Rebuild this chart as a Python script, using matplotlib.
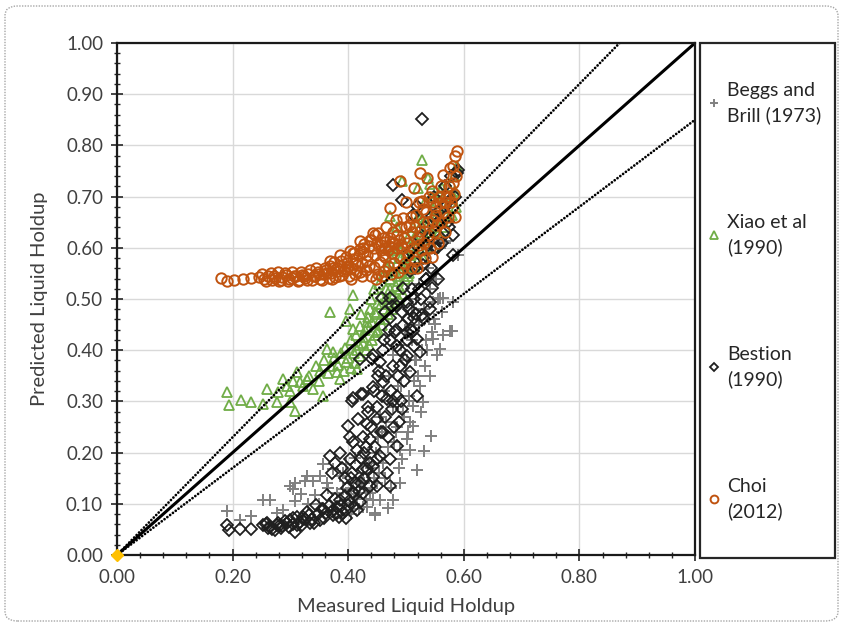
import numpy as np
import matplotlib.pyplot as plt
from matplotlib.ticker import AutoMinorLocator, FormatStrFormatter
from matplotlib.patches import Rectangle, FancyBboxPatch

plt.rcParams['font.family'] = ['Lato', 'DejaVu Sans']

# ---- data (measured, predicted) ----
beggs_x = [0.190, 0.213, 0.231, 0.253, 0.265, 0.276, 0.288, 0.299, 0.308, 0.305,
           0.308, 0.325, 0.328, 0.339, 0.343, 0.351, 0.357, 0.363, 0.374, 0.386,
           0.397, 0.391, 0.409, 0.420, 0.443, 0.446, 0.432, 0.374, 0.446, 0.469,
           0.478, 0.490, 0.519, 0.531, 0.544, 0.507, 0.501, 0.512, 0.529, 0.524,
           0.541, 0.533, 0.553, 0.547, 0.564, 0.580, 0.559, 0.512, 0.507, 0.490,
           0.391, 0.380, 0.438, 0.455, 0.403, 0.426, 0.493, 0.503, 0.570, 0.590,
           0.559, 0.581, 0.576, 0.550, 0.562, 0.545, 0.567, 0.564, 0.547, 0.415,
           0.425, 0.435, 0.445, 0.452, 0.460, 0.466, 0.472, 0.480, 0.486, 0.495,
           0.500, 0.505, 0.515, 0.520, 0.527, 0.535, 0.540, 0.455, 0.462, 0.470,
           0.478, 0.484, 0.492, 0.498, 0.510, 0.517, 0.523, 0.538, 0.552, 0.330,
           0.318, 0.350, 0.365, 0.405, 0.412, 0.428, 0.440, 0.450, 0.405, 0.410,
           0.418, 0.424, 0.430, 0.436, 0.442, 0.448, 0.454, 0.458, 0.464, 0.468,
           0.474, 0.478, 0.482, 0.488, 0.492, 0.496, 0.502, 0.506, 0.510, 0.514,
           0.518, 0.522, 0.526, 0.532, 0.536, 0.542, 0.548, 0.556]
beggs_y = [0.085, 0.069, 0.077, 0.108, 0.108, 0.082, 0.088, 0.134, 0.141, 0.128,
           0.105, 0.144, 0.154, 0.144, 0.118, 0.154, 0.177, 0.141, 0.167, 0.154,
           0.177, 0.128, 0.141, 0.122, 0.108, 0.082, 0.094, 0.088, 0.079, 0.092,
           0.108, 0.141, 0.166, 0.203, 0.232, 0.206, 0.226, 0.252, 0.299, 0.331,
           0.350, 0.369, 0.390, 0.422, 0.429, 0.437, 0.403, 0.291, 0.259, 0.206,
           0.161, 0.122, 0.122, 0.108, 0.102, 0.094, 0.187, 0.240, 0.613, 0.585,
           0.501, 0.495, 0.438, 0.452, 0.475, 0.436, 0.609, 0.501, 0.495, 0.110,
           0.160, 0.200, 0.150, 0.230, 0.180, 0.260, 0.300, 0.220, 0.330, 0.280,
           0.360, 0.310, 0.380, 0.350, 0.400, 0.420, 0.460, 0.270, 0.320, 0.350,
           0.390, 0.250, 0.410, 0.440, 0.470, 0.500, 0.530, 0.560, 0.540, 0.100,
           0.120, 0.100, 0.130, 0.130, 0.190, 0.140, 0.170, 0.140, 0.080, 0.120,
           0.090, 0.145, 0.110, 0.180, 0.130, 0.200, 0.160, 0.240, 0.150, 0.210,
           0.130, 0.290, 0.240, 0.170, 0.330, 0.270, 0.380, 0.300, 0.420, 0.340,
           0.380, 0.450, 0.280, 0.480, 0.400, 0.520, 0.460, 0.500]

xiao_x = [0.190, 0.194, 0.214, 0.231, 0.253, 0.260, 0.276, 0.279, 0.288, 0.294,
          0.299, 0.311, 0.317, 0.308, 0.328, 0.339, 0.345, 0.357, 0.363, 0.369,
          0.374, 0.380, 0.386, 0.397, 0.397, 0.403, 0.409, 0.415, 0.420, 0.409,
          0.432, 0.438, 0.449, 0.420, 0.300, 0.305, 0.322, 0.333, 0.350, 0.352,
          0.358, 0.365, 0.370, 0.376, 0.382, 0.388, 0.392, 0.395, 0.400, 0.405,
          0.410, 0.413, 0.418, 0.423, 0.426, 0.429, 0.435, 0.440, 0.442, 0.445,
          0.447, 0.450, 0.453, 0.455, 0.457, 0.460, 0.462, 0.465, 0.467, 0.470,
          0.472, 0.474, 0.476, 0.478, 0.480, 0.482, 0.484, 0.486, 0.488, 0.490,
          0.492, 0.494, 0.496, 0.498, 0.500, 0.502, 0.504, 0.506, 0.508, 0.510,
          0.512, 0.514, 0.516, 0.518, 0.520, 0.521, 0.523, 0.525, 0.527, 0.529,
          0.531, 0.533, 0.535, 0.538, 0.540, 0.541, 0.543, 0.546, 0.548, 0.550,
          0.552, 0.555, 0.557, 0.559, 0.562, 0.564, 0.566, 0.568, 0.570, 0.573,
          0.575, 0.577, 0.580, 0.581, 0.583, 0.585, 0.587, 0.589, 0.472, 0.493,
          0.470, 0.485, 0.430, 0.436, 0.441, 0.446, 0.452, 0.458, 0.463, 0.468,
          0.475, 0.481, 0.488, 0.495, 0.405, 0.412, 0.415, 0.425, 0.433, 0.448,
          0.456, 0.464, 0.472, 0.478, 0.487, 0.491, 0.497, 0.503, 0.509, 0.513,
          0.519, 0.526, 0.532, 0.537, 0.544, 0.551]
xiao_y = [0.318, 0.293, 0.303, 0.298, 0.295, 0.324, 0.298, 0.318, 0.344, 0.330,
          0.298, 0.357, 0.338, 0.281, 0.344, 0.324, 0.369, 0.311, 0.403, 0.475,
          0.397, 0.357, 0.344, 0.377, 0.458, 0.481, 0.442, 0.363, 0.389, 0.507,
          0.456, 0.481, 0.436, 0.448, 0.320, 0.340, 0.330, 0.350, 0.340, 0.360,
          0.380, 0.355, 0.370, 0.385, 0.372, 0.395, 0.360, 0.405, 0.385, 0.420,
          0.395, 0.430, 0.410, 0.470, 0.425, 0.440, 0.465, 0.500, 0.455, 0.520,
          0.475, 0.490, 0.530, 0.460, 0.505, 0.545, 0.480, 0.520, 0.560, 0.495,
          0.540, 0.580, 0.510, 0.555, 0.595, 0.525, 0.570, 0.545, 0.600, 0.520,
          0.580, 0.560, 0.610, 0.540, 0.590, 0.565, 0.620, 0.550, 0.600, 0.575,
          0.640, 0.590, 0.560, 0.615, 0.660, 0.717, 0.600, 0.640, 0.771, 0.580,
          0.625, 0.690, 0.610, 0.737, 0.650, 0.724, 0.630, 0.675, 0.600, 0.700,
          0.660, 0.674, 0.630, 0.710, 0.717, 0.650, 0.690, 0.640, 0.678, 0.720,
          0.660, 0.700, 0.664, 0.703, 0.740, 0.711, 0.680, 0.760, 0.662, 0.731,
          0.600, 0.640, 0.400, 0.410, 0.420, 0.430, 0.440, 0.450, 0.460, 0.470,
          0.480, 0.490, 0.500, 0.510, 0.365, 0.375, 0.400, 0.415, 0.445, 0.470,
          0.490, 0.500, 0.520, 0.505, 0.535, 0.550, 0.570, 0.545, 0.585, 0.620,
          0.590, 0.660, 0.650, 0.600, 0.700, 0.640]

bestion_x = [0.190, 0.194, 0.213, 0.231, 0.253, 0.265, 0.273, 0.282, 0.294, 0.308,
             0.305, 0.317, 0.328, 0.334, 0.345, 0.351, 0.363, 0.369, 0.374, 0.380,
             0.386, 0.391, 0.397, 0.400, 0.409, 0.415, 0.420, 0.423, 0.406, 0.403,
             0.415, 0.432, 0.438, 0.443, 0.449, 0.409, 0.408, 0.400, 0.420, 0.441,
             0.455, 0.443, 0.426, 0.460, 0.467, 0.484, 0.493, 0.475, 0.417, 0.432,
             0.449, 0.403, 0.438, 0.460, 0.484, 0.455, 0.472, 0.443, 0.467, 0.426,
             0.426, 0.449, 0.409, 0.397, 0.380, 0.472, 0.484, 0.490, 0.501, 0.507,
             0.513, 0.519, 0.519, 0.524, 0.501, 0.481, 0.472, 0.493, 0.513, 0.501,
             0.541, 0.527, 0.475, 0.458, 0.478, 0.493, 0.590, 0.588, 0.576, 0.559,
             0.581, 0.581, 0.553, 0.538, 0.524, 0.512, 0.519, 0.545, 0.507, 0.529,
             0.555, 0.545, 0.507, 0.495, 0.472, 0.464, 0.484, 0.512, 0.529, 0.541,
             0.512, 0.527, 0.406, 0.423, 0.443, 0.372, 0.378, 0.385, 0.390, 0.395,
             0.257, 0.262, 0.278, 0.286, 0.300, 0.312, 0.322, 0.338, 0.356, 0.362,
             0.412, 0.428, 0.435, 0.452, 0.462, 0.470, 0.478, 0.488, 0.497, 0.503,
             0.510, 0.516, 0.533, 0.548, 0.560, 0.567, 0.572, 0.578, 0.585, 0.535,
             0.260, 0.268, 0.276, 0.284, 0.290, 0.298, 0.304, 0.312, 0.320, 0.326,
             0.332, 0.340, 0.348, 0.354, 0.358, 0.366, 0.372, 0.378, 0.384, 0.388,
             0.394, 0.398, 0.402, 0.405, 0.410, 0.413, 0.418, 0.422, 0.425, 0.428,
             0.431, 0.434, 0.437, 0.440, 0.444, 0.447, 0.450, 0.453, 0.456, 0.458,
             0.461, 0.464, 0.466, 0.469, 0.472, 0.474, 0.477, 0.480, 0.483, 0.486,
             0.489, 0.492, 0.495, 0.498, 0.502, 0.505, 0.509, 0.514, 0.518, 0.522,
             0.526, 0.530, 0.534, 0.539, 0.544, 0.550, 0.556, 0.562, 0.568, 0.575]
bestion_y = [0.059, 0.049, 0.051, 0.051, 0.059, 0.055, 0.049, 0.059, 0.063, 0.045,
             0.073, 0.065, 0.084, 0.063, 0.098, 0.069, 0.118, 0.193, 0.079, 0.094,
             0.108, 0.083, 0.073, 0.098, 0.122, 0.088, 0.104, 0.141, 0.161, 0.187,
             0.206, 0.167, 0.134, 0.153, 0.187, 0.220, 0.306, 0.251, 0.383, 0.383,
             0.377, 0.328, 0.314, 0.338, 0.305, 0.311, 0.285, 0.285, 0.265, 0.255,
             0.265, 0.230, 0.226, 0.240, 0.212, 0.193, 0.187, 0.173, 0.161, 0.167,
             0.122, 0.134, 0.124, 0.088, 0.083, 0.134, 0.409, 0.369, 0.389, 0.357,
             0.409, 0.311, 0.422, 0.397, 0.436, 0.436, 0.462, 0.475, 0.462, 0.495,
             0.495, 0.468, 0.487, 0.501, 0.723, 0.694, 0.752, 0.746, 0.694, 0.674,
             0.625, 0.585, 0.599, 0.605, 0.619, 0.664, 0.682, 0.662, 0.593, 0.566,
             0.540, 0.521, 0.554, 0.521, 0.501, 0.475, 0.487, 0.475, 0.462, 0.481,
             0.438, 0.851, 0.301, 0.314, 0.390, 0.160, 0.180, 0.200, 0.170, 0.150,
             0.060, 0.052, 0.062, 0.056, 0.068, 0.058, 0.075, 0.070, 0.090, 0.082,
             0.140, 0.200, 0.280, 0.350, 0.420, 0.440, 0.300, 0.260, 0.340, 0.460,
             0.520, 0.560, 0.640, 0.700, 0.620, 0.720, 0.650, 0.740, 0.700, 0.540,
             0.063, 0.050, 0.058, 0.052, 0.066, 0.055, 0.060, 0.075, 0.058, 0.070,
             0.078, 0.062, 0.080, 0.090, 0.072, 0.095, 0.085, 0.110, 0.075, 0.095,
             0.115, 0.130, 0.105, 0.150, 0.095, 0.175, 0.125, 0.190, 0.230, 0.150,
             0.210, 0.290, 0.180, 0.250, 0.320, 0.210, 0.290, 0.360, 0.240, 0.310,
             0.400, 0.270, 0.350, 0.230, 0.420, 0.320, 0.370, 0.250, 0.440, 0.350,
             0.400, 0.300, 0.450, 0.380, 0.420, 0.480, 0.440, 0.500, 0.470, 0.520,
             0.500, 0.580, 0.540, 0.620, 0.560, 0.600, 0.650, 0.610, 0.680, 0.640]

choi_x = [0.180, 0.190, 0.203, 0.218, 0.232, 0.245, 0.255, 0.262, 0.268, 0.274,
          0.280, 0.286, 0.292, 0.298, 0.303, 0.309, 0.315, 0.320, 0.326, 0.331,
          0.337, 0.342, 0.347, 0.352, 0.357, 0.362, 0.366, 0.370, 0.374, 0.378,
          0.382, 0.386, 0.390, 0.394, 0.398, 0.401, 0.405, 0.408, 0.412, 0.415,
          0.418, 0.421, 0.424, 0.426, 0.430, 0.433, 0.436, 0.440, 0.443, 0.445,
          0.447, 0.450, 0.452, 0.455, 0.457, 0.460, 0.462, 0.464, 0.466, 0.468,
          0.470, 0.472, 0.472, 0.474, 0.476, 0.478, 0.480, 0.482, 0.484, 0.486,
          0.488, 0.490, 0.490, 0.492, 0.494, 0.495, 0.495, 0.497, 0.499, 0.500,
          0.502, 0.504, 0.506, 0.508, 0.510, 0.512, 0.513, 0.515, 0.517, 0.519,
          0.520, 0.522, 0.524, 0.524, 0.526, 0.527, 0.529, 0.531, 0.533, 0.535,
          0.536, 0.538, 0.540, 0.542, 0.545, 0.545, 0.547, 0.549, 0.551, 0.553,
          0.555, 0.557, 0.559, 0.561, 0.564, 0.566, 0.568, 0.570, 0.572, 0.574,
          0.576, 0.578, 0.580, 0.581, 0.583, 0.585, 0.588, 0.586, 0.584, 0.403,
          0.386, 0.368, 0.420, 0.446, 0.410, 0.425, 0.438, 0.458, 0.463, 0.480,
          0.250, 0.258, 0.266, 0.272, 0.278, 0.284, 0.290, 0.296, 0.302, 0.307,
          0.313, 0.318, 0.324, 0.329, 0.334, 0.340, 0.345, 0.350, 0.355, 0.360,
          0.364, 0.368, 0.372, 0.376, 0.380, 0.384, 0.388, 0.392, 0.396, 0.400,
          0.404, 0.408, 0.412, 0.416, 0.420, 0.424, 0.428, 0.432, 0.436, 0.440,
          0.444, 0.448, 0.452, 0.456, 0.460, 0.464, 0.468, 0.476, 0.484, 0.492,
          0.500, 0.508, 0.516, 0.522, 0.530, 0.538, 0.546, 0.552, 0.560, 0.568,
          0.575, 0.582]
choi_y = [0.541, 0.536, 0.537, 0.539, 0.541, 0.542, 0.540, 0.544, 0.537, 0.541,
          0.536, 0.543, 0.546, 0.539, 0.541, 0.545, 0.538, 0.547, 0.541, 0.549,
          0.537, 0.545, 0.552, 0.540, 0.548, 0.556, 0.541, 0.551, 0.560, 0.543,
          0.554, 0.565, 0.546, 0.558, 0.571, 0.545, 0.561, 0.578, 0.549, 0.566,
          0.585, 0.552, 0.570, 0.592, 0.556, 0.575, 0.603, 0.545, 0.629, 0.562,
          0.585, 0.610, 0.548, 0.572, 0.596, 0.620, 0.555, 0.583, 0.640, 0.565,
          0.604, 0.678, 0.619, 0.548, 0.590, 0.630, 0.570, 0.655, 0.600, 0.553,
          0.615, 0.731, 0.580, 0.640, 0.560, 0.658, 0.599, 0.620, 0.570, 0.690,
          0.610, 0.585, 0.645, 0.560, 0.630, 0.600, 0.717, 0.575, 0.665, 0.560,
          0.620, 0.690, 0.633, 0.746, 0.595, 0.691, 0.650, 0.610, 0.580, 0.670,
          0.737, 0.625, 0.700, 0.600, 0.583, 0.711, 0.655, 0.630, 0.680, 0.644,
          0.610, 0.700, 0.688, 0.650, 0.743, 0.670, 0.630, 0.700, 0.660, 0.720,
          0.756, 0.690, 0.678, 0.727, 0.705, 0.780, 0.790, 0.740, 0.660, 0.593,
          0.585, 0.574, 0.613, 0.625, 0.590, 0.600, 0.615, 0.545, 0.600, 0.610,
          0.548, 0.535, 0.550, 0.544, 0.552, 0.538, 0.550, 0.535, 0.552, 0.545,
          0.535, 0.553, 0.545, 0.538, 0.556, 0.545, 0.560, 0.548, 0.538, 0.560,
          0.550, 0.565, 0.540, 0.572, 0.560, 0.545, 0.575, 0.555, 0.582, 0.565,
          0.540, 0.590, 0.570, 0.555, 0.598, 0.545, 0.608, 0.585, 0.565, 0.615,
          0.600, 0.540, 0.628, 0.605, 0.585, 0.612, 0.595, 0.612, 0.625, 0.605,
          0.640, 0.660, 0.640, 0.605, 0.675, 0.650, 0.690, 0.665, 0.720, 0.690,
          0.700, 0.760]

series_labels = ['Beggs and\nBrill (1973)', 'Xiao et al\n(1990)', 'Bestion\n(1990)', 'Choi\n(2012)']
ref_slopes = [0.85, 1.0, 1.15]
ticks_x = [0.0, 0.2, 0.4, 0.6, 0.8, 1.0]
ticks_y = [0.0, 0.1, 0.2, 0.3, 0.4, 0.5, 0.6, 0.7, 0.8, 0.9, 1.0]

fig = plt.figure(figsize=(8.42, 6.25), dpi=100)
ax = fig.add_axes([117/842, 70/625, 578/842, 512/625])

ax.plot(beggs_x, beggs_y, '+', color='#808080', ms=8, mew=1.4, ls='none', label=series_labels[0])
ax.plot(xiao_x, xiao_y, '^', mfc='none', mec='#70AD47', ms=7, mew=1.3, ls='none', label=series_labels[1])
ax.plot(bestion_x, bestion_y, 'D', mfc='none', mec='#1f1f1f', ms=5.8, mew=1.3, ls='none', label=series_labels[2])
ax.plot(choi_x, choi_y, 'o', mfc='none', mec='#C0530F', ms=7.5, mew=1.4, ls='none', label=series_labels[3])

# 1:1 line and +/-15% bands
xs = np.array([0.0, 1.0])
ax.plot(xs, ref_slopes[1] * xs, color='black', lw=2.2)
for s in (ref_slopes[0], ref_slopes[2]):
    ax.plot(xs, s * xs, color='black', lw=2.0, ls=(0, (0.01, 1.25)), dash_capstyle='round')
ax.plot(0, 0, 'D', color='#FFC000', ms=6, clip_on=False, zorder=5)

ax.set_xlim(0, 1)
ax.set_ylim(0, 1)
ax.set_xticks(ticks_x)
ax.set_yticks(ticks_y)
ax.xaxis.set_minor_locator(AutoMinorLocator(5))
ax.yaxis.set_minor_locator(AutoMinorLocator(5))
ax.xaxis.set_major_formatter(FormatStrFormatter('%.2f'))
ax.yaxis.set_major_formatter(FormatStrFormatter('%.2f'))
ax.tick_params(which='major', direction='inout', length=8, width=1.2, labelsize=13.5,
               color='#262626', labelcolor='#404040', pad=6)
ax.tick_params(which='minor', direction='inout', length=5, width=1.0, color='#262626')
ax.grid(True, which='major', color='#D9D9D9', lw=1)
ax.set_axisbelow(True)
for sp in ax.spines.values():
    sp.set_linewidth(1.6)
    sp.set_color('#1a1a1a')

ax.set_xlabel('Measured Liquid Holdup', fontsize=14.5, color='#404040', labelpad=9)
ax.set_ylabel('Predicted Liquid Holdup', fontsize=14.5, color='#404040', labelpad=13)

# legend in its own box to the right
fig.add_artist(Rectangle((700/842, 1 - 558/625), 135/842, 515/625, transform=fig.transFigure,
                         fill=False, ec='#262626', lw=1.6))
leg = fig.legend(loc='center left', bbox_to_anchor=(700/842, 1 - 301/625), frameon=False,
                 fontsize=14, labelspacing=4.6, handlelength=0.8, handletextpad=0.3,
                 borderpad=0, borderaxespad=0.3, markerscale=0.75)
for t in leg.get_texts():
    t.set_linespacing(1.5)
    t.set_color('#262626')

# outer rounded chart border
fig.add_artist(FancyBboxPatch((5/842, 1 - 621/625), 833/842, 615/625,
                              boxstyle='round,pad=0,rounding_size=0.015',
                              transform=fig.transFigure, fill=False, ec='#A6A6A6',
                              lw=1, ls=(0, (1, 1))))

fig.savefig('out.png', dpi=100)
